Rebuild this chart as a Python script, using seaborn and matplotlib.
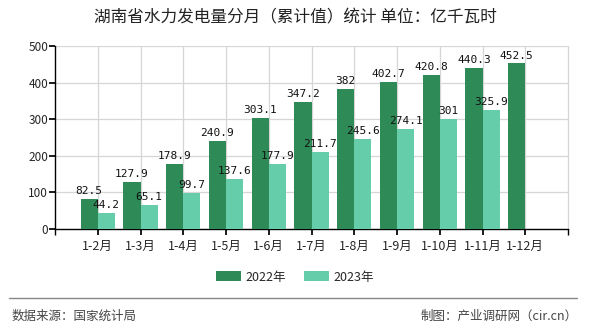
import matplotlib
matplotlib.use("Agg")
import matplotlib.pyplot as plt
import seaborn as sns
import pandas as pd
import numpy as np
from matplotlib.patches import Patch

categories = ["1-2月", "1-3月", "1-4月", "1-5月", "1-6月", "1-7月", "1-8月",
              "1-9月", "1-10月", "1-11月", "1-12月"]
values_2022 = [82.5, 127.9, 178.9, 240.9, 303.1, 347.2, 382, 402.7, 420.8, 440.3, 452.5]
values_2023 = [44.2, 65.1, 99.7, 137.6, 177.9, 211.7, 245.6, 274.1, 301, 325.9, np.nan]
series_names = ["2022年", "2023年"]
colors = ["#2E8B57", "#66CDAA"]
title = "湖南省水力发电量分月（累计值）统计 单位：亿千瓦时"
source_text = "数据来源：国家统计局"
credit_text = "制图：产业调研网（cir.cn）"

df = pd.DataFrame({
    "cat": categories * 2,
    "val": values_2022 + values_2023,
    "series": [series_names[0]] * len(categories) + [series_names[1]] * len(categories),
})

sns.set_theme(style="white")
plt.rcParams["font.family"] = ["Noto Sans CJK SC", "DejaVu Sans"]

fig = plt.figure(figsize=(5.9, 3.3), dpi=100)
ax = fig.add_axes([55 / 590, 1 - 229 / 330, (568 - 55) / 590, (229 - 46) / 330])

sns.barplot(data=df, x="cat", y="val", hue="series", palette=colors,
            order=categories, hue_order=series_names, width=0.8,
            saturation=1, ax=ax, legend=False, zorder=3, linewidth=0, edgecolor="none")

for cont in ax.containers:
    for bar in cont:
        if bar is None:
            continue
        h = bar.get_height()
        if h is None or not np.isfinite(h):
            continue
        ax.annotate(f"{h:g}", (bar.get_x() + bar.get_width() / 2, h),
                    xytext=(0, 2), textcoords="offset points", ha="center", va="bottom",
                    fontsize=8, color="#111111",
                    family=["DejaVu Sans Mono", "Noto Sans CJK SC"], zorder=5)

ax.set_xlim(-1, 11)
ax.set_ylim(0, 500)
ax.set_yticks(range(0, 501, 100))
ax.set_xticks(range(len(categories)))
ax.set_xticks([-1, 11], minor=True)
ax.set_xticklabels(categories, fontsize=9)
ax.tick_params(axis="y", labelsize=8.5, length=4, direction="out", color="black", pad=1, left=True)
ax.tick_params(axis="x", which="both", length=4, direction="out", color="black", pad=4, bottom=True)
ax.set_xlabel("")
ax.set_ylabel("")

ax.set_axisbelow(True)
for yv in range(100, 501, 100):
    ax.axhline(yv, color="#d6d6d6", lw=0.9, zorder=0)
for xv in range(0, 12):
    ax.axvline(xv, color="#d6d6d6", lw=0.9, zorder=0, clip_on=False)

ax.spines["top"].set_visible(False)
ax.spines["right"].set_visible(False)
ax.spines["left"].set_color("black")
ax.spines["bottom"].set_color("black")
ax.spines["left"].set_linewidth(1)
ax.spines["bottom"].set_linewidth(1)

fig.text(0.5, 1 - 18 / 330, title, ha="center", va="center", fontsize=12, color="#222222")

handles = [Patch(facecolor=c, edgecolor="none") for c in colors]
fig.legend(handles, series_names, loc="center", bbox_to_anchor=(0.5, 1 - 277 / 330),
           ncol=2, frameon=False, fontsize=9, handlelength=2.0, handleheight=0.9,
           columnspacing=1.5, handletextpad=0.3)

fig.add_artist(plt.Line2D([9 / 590, 577 / 590], [1 - 298 / 330] * 2,
                          color="#888888", lw=1, transform=fig.transFigure))
fig.text(12 / 590, 1 - 316 / 330, source_text, ha="left", va="center", fontsize=9, color="#444444")
fig.text(578 / 590, 1 - 316 / 330, credit_text, ha="right", va="center", fontsize=9, color="#444444")

fig.savefig("out.png", dpi=100)
